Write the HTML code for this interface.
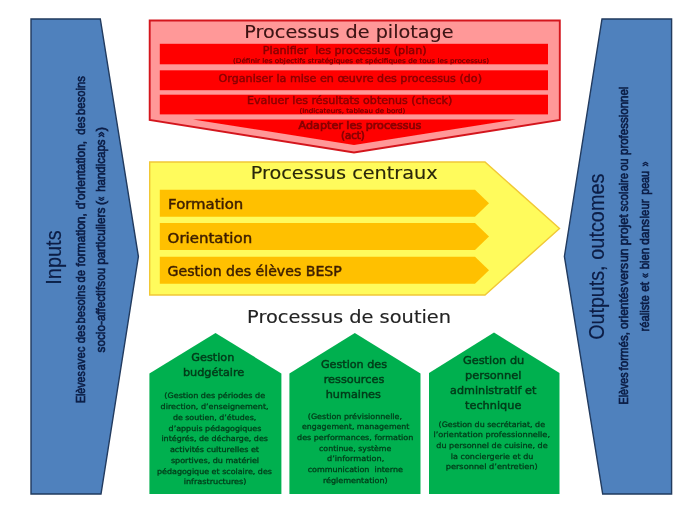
<!DOCTYPE html>
<html lang="fr">
<head>
<meta charset="utf-8">
<title>Processus</title>
<style>
html,body{margin:0;padding:0;background:#fff;}
body{width:700px;height:525px;overflow:hidden;}
svg{display:block;}
.v{font-family:"DejaVu Sans","Liberation Sans",sans-serif;}
.c{font-family:"Liberation Sans","DejaVu Sans",sans-serif;}
text{white-space:pre;}
</style>
</head>
<body>
<svg width="700" height="525" viewBox="0 0 700 525">
<defs><filter id="soft" x="0" y="0" width="700" height="525" filterUnits="userSpaceOnUse"><feGaussianBlur stdDeviation="0.55"/></filter></defs>
<rect width="700" height="525" fill="#ffffff"/>
<g filter="url(#soft)">
<rect width="700" height="525" fill="#ffffff"/>

<!-- left blue: Inputs -->
<g id="inputs">
<polygon points="31,19 100.3,19 138.4,256.6 101,494 31,494" fill="#4f81bd" stroke="#213a5e" stroke-width="1.4" stroke-linejoin="miter"/>
<g class="c" fill="#0b1d45">
<text transform="translate(60.7,284.7) rotate(-90)" font-size="22" textLength="54.3" lengthAdjust="spacingAndGlyphs" stroke="#0b1d45" stroke-width="0.2">Inputs</text>
<g stroke="#0b1d45" stroke-width="0.65">
<text transform="translate(85.1,403.1) rotate(-90)" font-size="12.6" textLength="31.8" lengthAdjust="spacingAndGlyphs">Elèves</text>
<text transform="translate(85.1,370.4) rotate(-90)" font-size="12.6" textLength="23.8" lengthAdjust="spacingAndGlyphs">avec</text>
<text transform="translate(85.1,343.3) rotate(-90)" font-size="12.6" textLength="18.4" lengthAdjust="spacingAndGlyphs">des</text>
<text transform="translate(85.1,323.6) rotate(-90)" font-size="12.6" textLength="38.7" lengthAdjust="spacingAndGlyphs">besoins</text>
<text transform="translate(85.1,282.4) rotate(-90)" font-size="12.6" textLength="12.3" lengthAdjust="spacingAndGlyphs">de</text>
<text transform="translate(85.1,266.4) rotate(-90)" font-size="12.6" textLength="53.2" lengthAdjust="spacingAndGlyphs">formation,</text>
<text transform="translate(85.1,209.3) rotate(-90)" font-size="12.6" textLength="68.4" lengthAdjust="spacingAndGlyphs">d’orientation,</text>
<text transform="translate(85.1,134.8) rotate(-90)" font-size="12.6" textLength="18.3" lengthAdjust="spacingAndGlyphs">des</text>
<text transform="translate(85.1,115.0) rotate(-90)" font-size="12.6" textLength="38.9" lengthAdjust="spacingAndGlyphs">besoins</text>
<text transform="translate(105.0,352.4) rotate(-90)" font-size="12.6" textLength="71.5" lengthAdjust="spacingAndGlyphs">socio-affectifs</text>
<text transform="translate(105.0,280.4) rotate(-90)" font-size="12.6" textLength="12.3" lengthAdjust="spacingAndGlyphs">ou</text>
<text transform="translate(105.0,264.8) rotate(-90)" font-size="12.6" textLength="57.2" lengthAdjust="spacingAndGlyphs">particuliers</text>
<text transform="translate(105.0,204.9) rotate(-90)" font-size="12.6">(</text>
<text transform="translate(105.0,201.0) rotate(-90)" font-size="12.6" textLength="4.4" lengthAdjust="spacingAndGlyphs">«</text>
<text transform="translate(105.0,191.8) rotate(-90)" font-size="12.6" textLength="52.3" lengthAdjust="spacingAndGlyphs">handicaps</text>
<text transform="translate(105.0,137.4) rotate(-90)" font-size="12.6" textLength="5.9" lengthAdjust="spacingAndGlyphs">»</text>
<text transform="translate(105.0,131.3) rotate(-90)" font-size="12.6">)</text>
</g>
</g>
</g>

<!-- right blue: Outputs -->
<g id="outputs">
<polygon points="602,19 671.6,19 671.6,494 602.7,494 564.4,256.4" fill="#4f81bd" stroke="#213a5e" stroke-width="1.4" stroke-linejoin="miter"/>
<g class="c" fill="#0b1d45">
<g font-size="22" stroke="#0b1d45" stroke-width="0.2">
<text transform="translate(603.9,339.8) rotate(-90)" textLength="74.3" lengthAdjust="spacingAndGlyphs">Outputs,</text>
<text transform="translate(603.9,259.7) rotate(-90)" textLength="86.1" lengthAdjust="spacingAndGlyphs">outcomes</text>
</g>
<g stroke="#0b1d45" stroke-width="0.65">
<text transform="translate(628.0,404.4) rotate(-90)" font-size="12.6" textLength="32.0" lengthAdjust="spacingAndGlyphs">Elèves</text>
<text transform="translate(628.0,370.4) rotate(-90)" font-size="12.6" textLength="38.3" lengthAdjust="spacingAndGlyphs">formés,</text>
<text transform="translate(628.0,329.1) rotate(-90)" font-size="12.6" textLength="42.4" lengthAdjust="spacingAndGlyphs">orientés</text>
<text transform="translate(628.0,285.8) rotate(-90)" font-size="12.6" textLength="22.9" lengthAdjust="spacingAndGlyphs">vers</text>
<text transform="translate(628.0,262.1) rotate(-90)" font-size="12.6" textLength="13.7" lengthAdjust="spacingAndGlyphs">un</text>
<text transform="translate(628.0,245.3) rotate(-90)" font-size="12.6" textLength="30.9" lengthAdjust="spacingAndGlyphs">projet</text>
<text transform="translate(628.0,211.5) rotate(-90)" font-size="12.6" textLength="38.6" lengthAdjust="spacingAndGlyphs">scolaire</text>
<text transform="translate(628.0,170.8) rotate(-90)" font-size="12.6" textLength="12.3" lengthAdjust="spacingAndGlyphs">ou</text>
<text transform="translate(628.0,155.0) rotate(-90)" font-size="12.6" textLength="68.4" lengthAdjust="spacingAndGlyphs">professionnel</text>
<text transform="translate(648.8,331.6) rotate(-90)" font-size="12.6" textLength="36.3" lengthAdjust="spacingAndGlyphs">réaliste</text>
<text transform="translate(648.8,291.8) rotate(-90)" font-size="12.6" textLength="10.0" lengthAdjust="spacingAndGlyphs">et</text>
<text transform="translate(648.8,278.1) rotate(-90)" font-size="12.6" textLength="4.9" lengthAdjust="spacingAndGlyphs">«</text>
<text transform="translate(648.8,269.3) rotate(-90)" font-size="12.6" textLength="21.5" lengthAdjust="spacingAndGlyphs">bien</text>
<text transform="translate(648.8,244.8) rotate(-90)" font-size="12.6" textLength="25.8" lengthAdjust="spacingAndGlyphs">dans</text>
<text transform="translate(648.8,218.4) rotate(-90)" font-size="12.6" textLength="18.9" lengthAdjust="spacingAndGlyphs">leur</text>
<text transform="translate(648.8,194.8) rotate(-90)" font-size="12.6" textLength="23.8" lengthAdjust="spacingAndGlyphs">peau</text>
<text transform="translate(648.8,166.4) rotate(-90)" font-size="12.6" textLength="4.9" lengthAdjust="spacingAndGlyphs">»</text>
</g>
</g>
</g>

<!-- red: pilotage -->
<g id="pilotage">
<polygon points="149.7,20.5 559.8,20.5 559.8,120 354,152.5 149.7,120" fill="#ff9898" stroke="#d4161f" stroke-width="1.9"/>
<rect x="159.8" y="43.8" width="388.2" height="20.5" fill="#ff0000"/>
<rect x="159.8" y="70.3" width="388.2" height="19.9" fill="#ff0000"/>
<rect x="159.8" y="94.7" width="388.2" height="19.7" fill="#ff0000"/>
<polygon points="193,119.4 516,119.4 354,145" fill="#ff0000"/>
<g class="v" text-anchor="middle">
<text x="349" y="38.3" font-size="18.2" fill="#3a1212" stroke="#3a1212" stroke-width="0.15" textLength="209.3" lengthAdjust="spacingAndGlyphs">Processus de pilotage</text>
<g fill="#880303" stroke="#880303" stroke-width="0.45" font-size="10.1">
<text x="344.7" y="54.2" textLength="163.7" lengthAdjust="spacingAndGlyphs">Planifier  les processus (plan)</text>
<text x="350.3" y="82.1" textLength="263.4" lengthAdjust="spacingAndGlyphs">Organiser la mise en œuvre des processus (do)</text>
<text x="349.7" y="103.9" textLength="205.2" lengthAdjust="spacingAndGlyphs">Evaluer les résultats obtenus (check)</text>
<text x="360" y="128.7" textLength="122.8" lengthAdjust="spacingAndGlyphs" stroke-width="0.7">Adapter les processus</text>
<text x="352.9" y="139" textLength="24" lengthAdjust="spacingAndGlyphs" stroke-width="0.7">(act)</text>
</g>
<g fill="#6a0000" stroke="#6a0000" stroke-width="0.2" font-size="6.5">
<text x="361" y="63" textLength="256" lengthAdjust="spacingAndGlyphs">(Définir les objectifs stratégiques et spécifiques de tous les processus)</text>
<text x="352.4" y="112.7" textLength="106" lengthAdjust="spacingAndGlyphs">(Indicateurs, tableau de bord)</text>
</g>
</g>
</g>

<!-- yellow: centraux -->
<g id="centraux">
<polygon points="149.7,162 485,162 559.5,228.6 485,295 149.7,295" fill="#fffb5c" stroke="#f1c836" stroke-width="1.4"/>
<polygon points="159.8,189.7 475,189.7 489,203.2 475,216.7 159.8,216.7" fill="#ffc000"/>
<polygon points="159.8,223.1 475,223.1 489,236.6 475,250.1 159.8,250.1" fill="#ffc000"/>
<polygon points="159.8,256.8 475,256.8 489,270.3 475,283.8 159.8,283.8" fill="#ffc000"/>
<g class="v">
<text x="344.2" y="179.4" font-size="18.2" fill="#2a2808" stroke="#2a2808" stroke-width="0.15" text-anchor="middle" textLength="187" lengthAdjust="spacingAndGlyphs">Processus centraux</text>
<g fill="#3d1f05" stroke="#3d1f05" stroke-width="0.45" font-size="13.3">
<text x="168.1" y="209.1" textLength="75.2" lengthAdjust="spacingAndGlyphs">Formation</text>
<text x="167.6" y="242.5" textLength="84.6" lengthAdjust="spacingAndGlyphs">Orientation</text>
<text x="167.6" y="276.1" textLength="174.2" lengthAdjust="spacingAndGlyphs">Gestion des élèves BESP</text>
</g>
</g>
</g>

<!-- green: soutien -->
<g id="soutien">
<text class="v" x="349.1" y="323.2" font-size="18.2" fill="#242424" stroke="#242424" stroke-width="0.15" text-anchor="middle" textLength="204" lengthAdjust="spacingAndGlyphs">Processus de soutien</text>
<polygon points="149.4,373.5 215.5,333 281.4,373.5 281.4,494 149.4,494" fill="#06b050"/>
<polygon points="289.4,373.5 354.8,333 420.5,373.5 420.5,494 289.4,494" fill="#06b050"/>
<polygon points="429,373 494,332.5 559.5,373 559.5,494 429,494" fill="#06b050"/>
<g class="v" text-anchor="middle" fill="#063c19" stroke="#063c19">
<g font-size="11.3" stroke-width="0.5">
<text x="212.8" y="360.7" textLength="42.9" lengthAdjust="spacingAndGlyphs">Gestion</text>
<text x="213.6" y="375.6" textLength="61.4" lengthAdjust="spacingAndGlyphs">budgétaire</text>
<text x="354" y="367.5" textLength="66.2" lengthAdjust="spacingAndGlyphs">Gestion des</text>
<text x="354" y="382.9" textLength="60.6" lengthAdjust="spacingAndGlyphs">ressources</text>
<text x="353.3" y="398.2" textLength="55.2" lengthAdjust="spacingAndGlyphs">humaines</text>
<text x="493.6" y="364.0" textLength="61.4" lengthAdjust="spacingAndGlyphs">Gestion du</text>
<text x="493.2" y="379.3" textLength="56.3" lengthAdjust="spacingAndGlyphs">personnel</text>
<text x="493.2" y="393.7" textLength="86.3" lengthAdjust="spacingAndGlyphs">administratif et</text>
<text x="493.2" y="408.9" textLength="56.3" lengthAdjust="spacingAndGlyphs">technique</text>
</g>
<g font-size="7.4" stroke-width="0.3" transform="translate(0,0.2)">
<text x="214.7" y="398.3" textLength="100.8" lengthAdjust="spacingAndGlyphs">(Gestion des périodes de</text>
<text x="214.6" y="409" textLength="108" lengthAdjust="spacingAndGlyphs">direction, d’enseignement,</text>
<text x="214.6" y="419.8" textLength="83.4" lengthAdjust="spacingAndGlyphs">de soutien, d’études,</text>
<text x="215" y="430.5" textLength="92.8" lengthAdjust="spacingAndGlyphs">d’appuis pédagogiques</text>
<text x="214.7" y="441.2" textLength="106.6" lengthAdjust="spacingAndGlyphs">intégrés, de décharge, des</text>
<text x="214.5" y="452" textLength="89.1" lengthAdjust="spacingAndGlyphs">activités culturelles et</text>
<text x="215" y="462.7" textLength="88.2" lengthAdjust="spacingAndGlyphs">sportives, du matériel</text>
<text x="214.5" y="473.4" textLength="114.9" lengthAdjust="spacingAndGlyphs">pédagogique et scolaire, des</text>
<text x="215.1" y="484.1" textLength="62.9" lengthAdjust="spacingAndGlyphs">infrastructures)</text>
<text x="354.9" y="418.4" textLength="94.2" lengthAdjust="spacingAndGlyphs">(Gestion prévisionnelle,</text>
<text x="355.7" y="429" textLength="107.4" lengthAdjust="spacingAndGlyphs">engagement, management</text>
<text x="355.2" y="439.6" textLength="116.3" lengthAdjust="spacingAndGlyphs">des performances, formation</text>
<text x="355.2" y="450.4" textLength="72.3" lengthAdjust="spacingAndGlyphs">continue, système</text>
<text x="355.7" y="461.3" textLength="57.2" lengthAdjust="spacingAndGlyphs">d’information,</text>
<text x="355.3" y="471.6" textLength="95.2" lengthAdjust="spacingAndGlyphs">communication  interne</text>
<text x="355.3" y="482.4" textLength="64.8" lengthAdjust="spacingAndGlyphs">réglementation)</text>
<text x="491.8" y="426.4" textLength="106.5" lengthAdjust="spacingAndGlyphs">(Gestion du secrétariat, de</text>
<text x="491.7" y="437" textLength="116.6" lengthAdjust="spacingAndGlyphs">l’orientation professionnelle,</text>
<text x="492" y="447.9" textLength="111.4" lengthAdjust="spacingAndGlyphs">du personnel de cuisine, de</text>
<text x="492.1" y="458.4" textLength="82.5" lengthAdjust="spacingAndGlyphs">la conciergerie et du</text>
<text x="491.7" y="468.7" textLength="92" lengthAdjust="spacingAndGlyphs">personnel d’entretien)</text>
</g>
</g>
</g>
</g>
</svg>
</body>
</html>
